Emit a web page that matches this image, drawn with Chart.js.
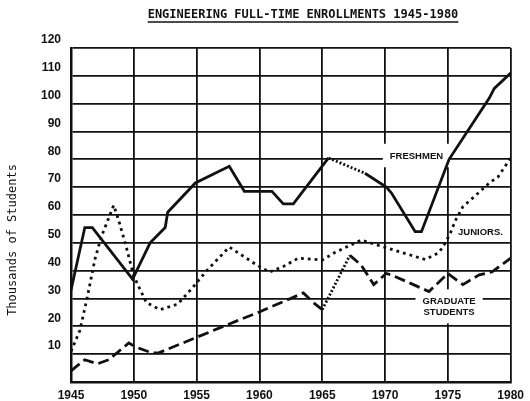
<!DOCTYPE html>
<html>
<head>
<meta charset="utf-8">
<script src="https://cdn.jsdelivr.net/npm/chart.js@4"></script>
<style>
  body { margin: 0; background: #fff; }
  #wrap { width: 530px; height: 401px; }
</style>
</head>
<body>
<div id="wrap"><canvas id="enrollChart"></canvas></div>
<script>
// Data (thousands of students)
const freshmenYears = [1945, 1946.1, 1946.7, 1949.9, 1951.3, 1952.5, 1952.7, 1954.9, 1957.6, 1958.8, 1961, 1961.9, 1962.7, 1965.5, 1968.4, 1970.1, 1970.5, 1972.4, 1972.9, 1975.1, 1978.3, 1978.7, 1980];
const freshmenValues = [33, 55.5, 55.5, 37, 50, 55.5, 61, 71.5, 77.5, 68.5, 68.5, 64, 64, 80.5, 75, 70, 68, 54, 54, 80, 102, 105.5, 111];

const juniorsYears = [1945, 1945.7, 1946.3, 1946.9, 1947.4, 1948.4, 1948.8, 1949.4, 1950, 1951, 1952.1, 1953.5, 1954.7, 1955.8, 1957.6, 1959.8, 1960.8, 1961.9, 1963.1, 1965, 1966, 1968.1, 1969.9, 1973.2, 1974.3, 1974.8, 1975.2, 1975.6, 1976.2, 1977.2, 1978.3, 1979, 1980];
const juniorsValues = [11, 18.5, 30.5, 44, 52, 63.5, 58, 48.5, 38, 28.5, 26, 28, 34, 40, 48.5, 42, 39.5, 41.5, 44.5, 43.8, 46.5, 51, 48.5, 44, 46.5, 50, 53.5, 58, 63, 67, 71.5, 73.7, 80.5];

const gradYears = [1945, 1946.1, 1947.1, 1948, 1949.6, 1950.2, 1951.4, 1952, 1957.4, 1959.9, 1963.5, 1964.3, 1965, 1967.2, 1968.1, 1969.1, 1970.1, 1970.5, 1973.5, 1975, 1976.2, 1977.5, 1978.5, 1980];
const gradValues = [4, 8, 6.5, 8, 14, 12.5, 10.5, 10.5, 20.5, 25, 32, 28.5, 26, 45.5, 42, 35, 39, 38.5, 32.5, 39, 35, 38.5, 39.5, 44.5];

// stretches the original draws as fine dots
const freshmenDotted = [1965.5, 1968.4];
const gradDotted = [1965, 1967.2];

const yearTicks = [1945, 1950, 1955, 1960, 1965, 1970, 1975, 1980];

const toPoints = (xs, ys) => xs.map((x, i) => ({ x: x, y: ys[i] }));
const inRange = (ctx, r) => ctx.p0.parsed.x >= r[0] && ctx.p1.parsed.x <= r[1];

// in-chart labels, placed in data units
const seriesLabels = [
  { lines: ["FRESHMEN"], x: 1972.5, y: 81.2 },
  { lines: ["JUNIORS."], x: 1977.6, y: 53.9, noBox: true },
  { lines: ["GRADUATE", "STUDENTS"], x: 1975.1, y: 27 },
];

const decorations = {
  id: "decorations",
  beforeDatasetsDraw(chart) {
    const { ctx, scales } = chart;
    ctx.save();
    ctx.font = "bold 9.5px 'Liberation Sans', Arial, sans-serif";
    ctx.textAlign = "center";
    ctx.textBaseline = "middle";
    seriesLabels.forEach((lab) => {
      const cx = scales.x.getPixelForValue(lab.x);
      const cy = scales.y.getPixelForValue(lab.y);
      const lh = 10.5;
      const w = Math.max(...lab.lines.map((l) => ctx.measureText(l).width));
      const h = lh * lab.lines.length;
      if (!lab.noBox) {
        ctx.fillStyle = "#fff";
        ctx.fillRect(cx - w / 2 - 7, cy - h / 2 - 7, w + 14, h + 13);
      }
      ctx.fillStyle = "#111";
      lab.lines.forEach((l, i) => {
        ctx.fillText(l, cx, cy - h / 2 + lh * (i + 0.5));
      });
    });
    ctx.restore();
  },
  afterDraw(chart) {
    const { ctx } = chart;
    ctx.save();
    ctx.fillStyle = "#111";
    ctx.strokeStyle = "#111";
    // title with underline
    ctx.font = "bold 12px 'DejaVu Sans Mono', monospace";
    ctx.textAlign = "center";
    ctx.textBaseline = "middle";
    const title = "ENGINEERING FULL-TIME ENROLLMENTS 1945-1980";
    ctx.fillText(title, 303, 15);
    const tw = ctx.measureText(title).width;
    ctx.lineWidth = 1.3;
    ctx.beginPath();
    ctx.moveTo(303 - tw / 2, 22);
    ctx.lineTo(303 + tw / 2, 22);
    ctx.stroke();
    // y axis title
    ctx.font = "12px 'DejaVu Sans Mono', monospace";
    ctx.translate(13, 240);
    ctx.rotate(-Math.PI / 2);
    ctx.fillText("Thousands of Students", 0, 0);
    ctx.restore();
  },
};

const ctx = document.getElementById("enrollChart").getContext("2d");

new Chart(ctx, {
  type: "line",
  data: {
    datasets: [
      {
        label: "Freshmen",
        data: toPoints(freshmenYears, freshmenValues),
        borderColor: "#111",
        borderWidth: 2.8,
        pointRadius: 0,
        segment: {
          borderDash: (c) => (inRange(c, freshmenDotted) ? [2, 2] : undefined),
        },
      },
      {
        label: "Juniors",
        data: toPoints(juniorsYears, juniorsValues),
        borderColor: "#111",
        borderWidth: 2.8,
        borderDash: [2.8, 4],
        pointRadius: 0,
      },
      {
        label: "Graduate Students",
        data: toPoints(gradYears, gradValues),
        borderColor: "#111",
        borderWidth: 2.8,
        borderDash: [11, 5],
        pointRadius: 0,
        segment: {
          borderDash: (c) => (inRange(c, gradDotted) ? [2, 2] : undefined),
        },
      },
    ],
  },
  options: {
    responsive: true,
    maintainAspectRatio: false,
    animation: false,
    layout: { padding: { top: 48, right: 11, left: 0, bottom: 0 } },
    plugins: {
      legend: { display: false },
      tooltip: { enabled: false },
    },
    scales: {
      x: {
        type: "linear",
        min: 1945,
        max: 1980,
        afterBuildTicks: (scale) => {
          scale.ticks = yearTicks.map((v) => ({ value: v }));
        },
        afterFit: (scale) => {
          scale.height = 19;
        },
        ticks: {
          padding: 6,
          color: "#111",
          font: { family: "'Liberation Sans', Arial, sans-serif", size: 12, weight: "bold" },
          maxRotation: 0,
          callback: (v) => String(v),
        },
        grid: { color: "#111", lineWidth: 1.8, drawTicks: false },
        border: { color: "#111", width: 2.5 },
      },
      y: {
        min: 0,
        max: 120,
        afterFit: (scale) => {
          scale.width = 71;
        },
        ticks: {
          stepSize: 10,
          padding: 10,
          labelOffset: -8,
          color: "#111",
          font: { family: "'Liberation Sans', Arial, sans-serif", size: 12, weight: "bold" },
          callback: (v) => (v === 0 ? "" : v),
        },
        grid: { color: "#111", lineWidth: 1.8, drawTicks: false },
        border: { color: "#111", width: 2.5 },
      },
    },
  },
  plugins: [decorations],
});
</script>
</body>
</html>
